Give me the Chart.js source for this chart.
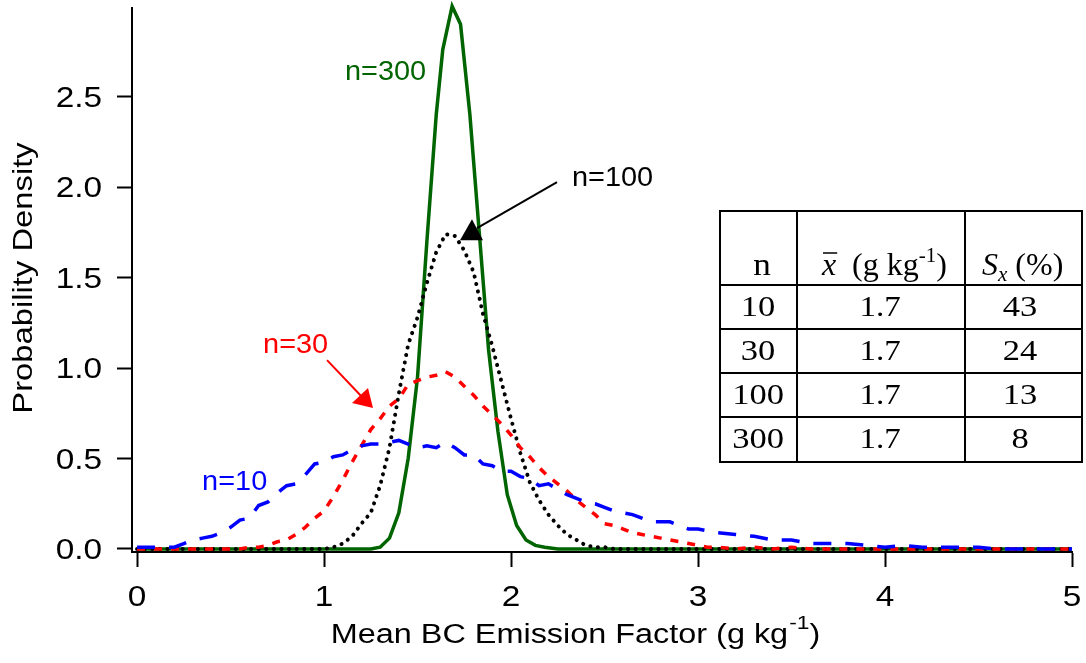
<!DOCTYPE html>
<html>
<head>
<meta charset="utf-8">
<script src="https://cdn.jsdelivr.net/npm/chart.js@4"></script>
<style>
  body { margin: 0; background: #fff; }
  canvas { display: block; }
</style>
</head>
<body>
<canvas id="myChart" width="1086" height="663" style="width:1086px;height:663px"></canvas>
<script>
// n=10 (blue dashed)
const x10 = [0, 0.1, 0.2, 0.25, 0.3, 0.35, 0.4, 0.45, 0.5, 0.55, 0.6, 0.65, 0.7, 0.75, 0.8, 0.85, 0.9, 0.95, 1.0, 1.05, 1.1, 1.15, 1.2, 1.25, 1.3, 1.35, 1.4, 1.45, 1.5, 1.55, 1.6, 1.65, 1.7, 1.75, 1.8, 1.85, 1.9, 1.95, 2.0, 2.05, 2.1, 2.15, 2.2, 2.25, 2.3, 2.35, 2.4, 2.45, 2.5, 2.55, 2.6, 2.65, 2.7, 2.75, 2.8, 2.85, 2.9, 2.95, 3.0, 3.1, 3.2, 3.3, 3.4, 3.5, 3.6, 3.7, 3.8, 3.9, 4.0, 4.1, 4.2, 4.3, 4.4, 4.5, 4.6, 5];
const y10 = [0.01, 0.01, 0.01, 0.03, 0.05, 0.06, 0.07, 0.09, 0.12, 0.16, 0.17, 0.24, 0.26, 0.31, 0.35, 0.36, 0.41, 0.47, 0.48, 0.51, 0.52, 0.55, 0.57, 0.58, 0.58, 0.59, 0.60, 0.58, 0.56, 0.57, 0.56, 0.59, 0.56, 0.52, 0.52, 0.47, 0.46, 0.43, 0.43, 0.40, 0.39, 0.35, 0.36, 0.33, 0.30, 0.28, 0.26, 0.25, 0.23, 0.21, 0.20, 0.19, 0.17, 0.15, 0.15, 0.15, 0.13, 0.11, 0.11, 0.09, 0.08, 0.07, 0.05, 0.05, 0.03, 0.03, 0.03, 0.02, 0.01, 0.02, 0.01, 0.01, 0.01, 0.01, 0.0, 0.0];

// n=30 (red dashed)
const x30 = [0, 0.55, 0.6, 0.65, 0.7, 0.75, 0.8, 0.85, 0.9, 0.95, 1.0, 1.05, 1.1, 1.15, 1.2, 1.25, 1.3, 1.35, 1.4, 1.45, 1.5, 1.55, 1.6, 1.65, 1.7, 1.75, 1.8, 1.85, 1.9, 1.95, 2.0, 2.05, 2.1, 2.15, 2.2, 2.25, 2.3, 2.35, 2.4, 2.45, 2.5, 2.55, 2.6, 2.65, 2.7, 2.75, 2.8, 2.85, 2.9, 2.95, 3.0, 3.05, 3.1, 3.2, 3.3, 3.4, 3.5, 3.6, 5];
const y30 = [0, 0, 0.01, 0.01, 0.02, 0.04, 0.05, 0.08, 0.12, 0.17, 0.21, 0.29, 0.38, 0.48, 0.57, 0.66, 0.72, 0.79, 0.83, 0.91, 0.93, 0.95, 0.96, 0.98, 0.95, 0.90, 0.85, 0.79, 0.74, 0.69, 0.63, 0.56, 0.51, 0.45, 0.40, 0.36, 0.32, 0.27, 0.23, 0.19, 0.14, 0.13, 0.11, 0.09, 0.08, 0.07, 0.06, 0.05, 0.04, 0.03, 0.02, 0.01, 0.01, 0.0, 0.01, 0.0, 0.01, 0, 0];

// n=100 (black dotted)
const x100 = [0, 1.0, 1.05, 1.1, 1.15, 1.2, 1.25, 1.3, 1.35, 1.4, 1.45, 1.5, 1.55, 1.6, 1.65, 1.7, 1.75, 1.8, 1.85, 1.9, 1.95, 2.0, 2.05, 2.1, 2.15, 2.2, 2.25, 2.3, 2.35, 2.4, 2.45, 2.5, 2.55, 5];
const y100 = [0, 0, 0.01, 0.03, 0.07, 0.14, 0.2, 0.35, 0.56, 0.86, 1.13, 1.28, 1.47, 1.64, 1.74, 1.73, 1.65, 1.53, 1.30, 1.12, 0.92, 0.72, 0.53, 0.37, 0.27, 0.19, 0.13, 0.08, 0.05, 0.02, 0.01, 0.01, 0, 0];

// n=300 (green solid)
const x300 = [0, 1.25, 1.3, 1.35, 1.4, 1.45, 1.5, 1.55, 1.6, 1.635, 1.685, 1.73, 1.78, 1.83, 1.88, 1.93, 1.98, 2.03, 2.08, 2.13, 2.18, 2.25, 5];
const y300 = [0, 0, 0.01, 0.06, 0.2, 0.5, 0.95, 1.7, 2.4, 2.76, 3.0, 2.9, 2.4, 1.75, 1.1, 0.65, 0.3, 0.13, 0.05, 0.02, 0.01, 0, 0];

const xTicks = [0, 1, 2, 3, 4, 5];
const yTicks = [0, 0.5, 1.0, 1.5, 2.0, 2.5];
const xTickLabels = ['0', '1', '2', '3', '4', '5'];
const yTickLabels = ['0.0', '0.5', '1.0', '1.5', '2.0', '2.5'];

const labelText = ['n=10', 'n=30', 'n=100', 'n=300'];
const labelColor = ['#0000ff', '#ff0000', '#000000', '#006400'];

const tableN = ['10', '30', '100', '300'];
const tableMean = ['1.7', '1.7', '1.7', '1.7'];
const tableSx = ['43', '24', '13', '8'];

const pts = (xs, ys) => xs.map((v, i) => ({x: v, y: ys[i]}));

const SANS = '"Liberation Sans", Arial, sans-serif';
const SERIF = '"Liberation Serif", "Times New Roman", serif';

// text drawn a little wider than the font, like the original figure
const wideText = (ctx, t, x, y, font, k, align) => {
    ctx.save();
    ctx.font = font;
    ctx.textAlign = align || 'left';
    ctx.translate(x, y);
    ctx.scale(k, 1);
    ctx.fillText(t, 0, 0);
    ctx.restore();
    ctx.font = font;
    return ctx.measureText(t).width * k;
};

// tick labels, annotations, titles and table drawn on top
const extras = {
    id: 'extras',
    afterDraw(c) {
        const ctx = c.ctx;
        const sx = c.scales.x, sy = c.scales.y;
        const px = v => sx.getPixelForValue(v);
        const py = v => sy.getPixelForValue(v);
        ctx.save();
        ctx.fillStyle = '#000';

        // tick labels
        const tf = '29px ' + SANS;
        ctx.textBaseline = 'middle';
        xTicks.forEach((v, i) => wideText(ctx, xTickLabels[i], px(v), 598, tf, 1.15, 'center'));
        yTicks.forEach((v, i) => wideText(ctx, yTickLabels[i], 102, py(v) + 2, tf, 1.15, 'right'));

        // curve labels
        const labelPos = [[0.348, 0.365], [0.674, 1.127], [2.326, 2.05], [1.112, 2.635]];
        labelText.forEach((t, i) => {
            ctx.fillStyle = labelColor[i];
            wideText(ctx, t, px(labelPos[i][0]), py(labelPos[i][1]), '27px ' + SANS, 1.07, 'left');
        });

        // n=100 arrow
        ctx.strokeStyle = '#000';
        ctx.fillStyle = '#000';
        ctx.lineWidth = 2;
        let ax = px(1.818), ay = py(1.773);
        ctx.beginPath();
        ctx.moveTo(px(2.246), py(2.028));
        ctx.lineTo(ax, ay);
        ctx.stroke();
        ctx.beginPath();
        ctx.moveTo(ax - 5, ay - 9);
        ctx.lineTo(ax - 17, ay + 12);
        ctx.lineTo(ax + 6, ay + 12);
        ctx.closePath();
        ctx.fill();

        // n=30 arrow
        ctx.strokeStyle = '#ff0000';
        ctx.fillStyle = '#ff0000';
        ax = px(1.262); ay = py(0.779);
        ctx.beginPath();
        ctx.moveTo(px(1.016), py(1.044));
        ctx.lineTo(ax - 10, ay - 10);
        ctx.stroke();
        ctx.beginPath();
        ctx.moveTo(ax, ay);
        ctx.lineTo(ax - 21, ay - 5);
        ctx.lineTo(ax - 5, ay - 20);
        ctx.closePath();
        ctx.fill();

        // axis titles
        ctx.fillStyle = '#000';
        ctx.textBaseline = 'alphabetic';
        ctx.save();
        ctx.translate(32, 278);
        ctx.rotate(-Math.PI / 2);
        wideText(ctx, 'Probability Density', 0, 0, '28px ' + SANS, 1.17, 'center');
        ctx.restore();

        const t1 = 'Mean BC Emission Factor (g kg', t2 = '-1', t3 = ')';
        const k = 1.2;
        ctx.font = '27px ' + SANS;
        const w1 = ctx.measureText(t1).width * k, w3 = ctx.measureText(t3).width * k;
        ctx.font = '19px ' + SANS;
        const w2 = ctx.measureText(t2).width * k;
        let tx = 575 - (w1 + w2 + w3) / 2;
        tx += wideText(ctx, t1, tx, 643, '27px ' + SANS, k);
        tx += wideText(ctx, t2, tx + 1, 629, '19px ' + SANS, k);
        wideText(ctx, t3, tx + 1, 643, '27px ' + SANS, k);

        // table
        const colX = [720, 797, 965, 1082];
        const rowY = [211, 285, 329, 373, 417, 462];
        ctx.fillStyle = '#fff';
        ctx.fillRect(colX[0], rowY[0], colX[3] - colX[0], rowY[5] - rowY[0]);
        ctx.strokeStyle = '#000';
        ctx.lineWidth = 2;
        ctx.strokeRect(colX[0], rowY[0], colX[3] - colX[0], rowY[5] - rowY[0]);
        ctx.beginPath();
        colX.slice(1, 3).forEach(v => { ctx.moveTo(v, rowY[0]); ctx.lineTo(v, rowY[5]); });
        rowY.slice(1, 5).forEach(v => { ctx.moveTo(colX[0], v); ctx.lineTo(colX[3], v); });
        ctx.stroke();

        ctx.fillStyle = '#000';
        const hf = '32px ' + SERIF;
        wideText(ctx, 'n', 762, 275, hf, 1.1, 'center');
        // x-bar header
        let hx = 822;
        const xw = wideText(ctx, 'x', hx, 275, 'italic 32px ' + SERIF, 1.0);
        ctx.beginPath();
        ctx.lineWidth = 1.5;
        ctx.moveTo(hx + 1, 253);
        ctx.lineTo(hx + xw + 1, 253);
        ctx.stroke();
        hx = 852;
        hx += wideText(ctx, '(g kg', hx, 275, hf, 1.0);
        hx += wideText(ctx, '-1', hx, 262, '21px ' + SERIF, 1.0);
        wideText(ctx, ')', hx, 275, hf, 1.0);
        // S_x header
        hx = 982;
        hx += wideText(ctx, 'S', hx, 275, 'italic 32px ' + SERIF, 1.0);
        hx += wideText(ctx, 'x', hx, 281, 'italic 21px ' + SERIF, 1.0);
        wideText(ctx, ' (%)', hx, 275, hf, 1.0);

        const rf = '30px ' + SERIF;
        tableN.forEach((t, i) => {
            const b = rowY[i + 1] + 31;
            wideText(ctx, t, 758, b, rf, 1.15, 'center');
            wideText(ctx, tableMean[i], 880, b, rf, 1.1, 'center');
            wideText(ctx, tableSx[i], 1020, b, rf, 1.15, 'center');
        });

        ctx.restore();
    }
};

const ctx = document.getElementById('myChart');

Chart.defaults.font.family = SANS;
Chart.defaults.color = '#000';

const flat = s => { s.paddingLeft = 0; s.paddingRight = 0; s.paddingTop = 0; s.paddingBottom = 0; };

const chart = new Chart(ctx, {
    type: 'line',
    data: {
        datasets: [{
            label: 'n=10',
            data: pts(x10, y10),
            borderColor: '#0000ff',
            borderWidth: 3.5,
            borderDash: [18, 14]
        }, {
            label: 'n=30',
            data: pts(x30, y30),
            borderColor: '#ff0000',
            borderWidth: 3.5,
            borderDash: [8, 9]
        }, {
            label: 'n=100',
            data: pts(x100, y100),
            borderColor: '#000000',
            borderWidth: 4,
            borderCapStyle: 'round',
            borderDash: [0.1, 7.5]
        }, {
            label: 'n=300',
            data: pts(x300, y300),
            borderColor: '#006400',
            borderWidth: 3.5
        }]
    },
    options: {
        responsive: false,
        animation: false,
        clip: false,
        elements: {
            point: { radius: 0 },
            line: { tension: 0, fill: false }
        },
        layout: { padding: { left: 0, top: 8, right: 14, bottom: 0 } },
        plugins: {
            legend: { display: false },
            tooltip: { enabled: false }
        },
        scales: {
            x: {
                type: 'linear',
                min: -0.027,
                max: 5,
                afterBuildTicks: s => { s.ticks = xTicks.map(v => ({value: v})); },
                afterFit: s => { s.height = 111; flat(s); },
                ticks: { display: false },
                grid: {
                    drawOnChartArea: false,
                    drawTicks: true,
                    tickLength: 15,
                    tickWidth: 2,
                    tickColor: '#000'
                },
                border: { display: true, color: '#000', width: 2 }
            },
            y: {
                min: -0.0166,
                max: 2.99,
                afterBuildTicks: s => { s.ticks = yTicks.map(v => ({value: v})); },
                afterFit: s => { s.width = 132; flat(s); },
                ticks: { display: false },
                grid: {
                    drawOnChartArea: false,
                    drawTicks: true,
                    tickLength: 15,
                    tickWidth: 2,
                    tickColor: '#000'
                },
                border: { display: true, color: '#000', width: 2 }
            }
        }
    },
    plugins: [extras]
});
</script>
</body>
</html>
